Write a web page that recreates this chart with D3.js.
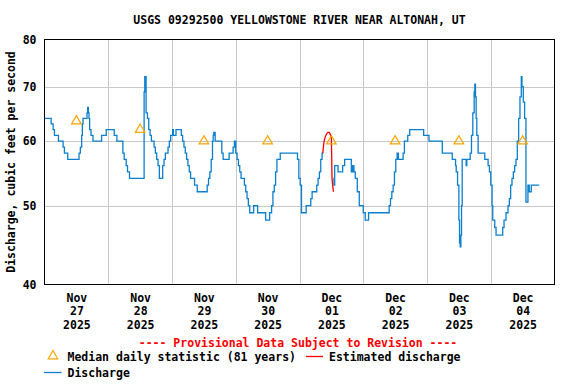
<!DOCTYPE html>
<html>
<head>
<meta charset="utf-8">
<script src="https://cdn.jsdelivr.net/npm/d3@7"></script>
<style>
body { margin: 0; background: #fff; }
svg text { font-family: "DejaVu Sans Mono", monospace; font-weight: bold; font-size: 11.5px; fill: #000; }
</style>
</head>
<body>
<script>
// hours after 2025-11-27 00:00, discharge in cfs
var dischargeBefore = [
    [0,64],[2.5,63],[3.25,62],[3.75,61],[5.25,60],[7,59],[7.5,58],[8.75,57],[13,58],[13.5,59],
    [14,61],[14.25,63],[14.5,64],[16,65],[16.25,66],[16.5,65],[16.75,64],[17,62],[17.5,61],[18.25,60],
    [21.5,61],[23.25,62],[26.25,61],[27.25,60],[29.5,58],[30,57],[30.75,56],[31.25,55],[32,54],
    [37.5,69],[37.75,72],[38.25,65],[38.75,64],[39.25,62],[39.75,61],[40.25,60],[41.25,59],[41.75,58],
    [42.25,57],[42.75,56],[43.25,54],[44.5,56],[45,57],[45.5,58],[46.5,59],[47,60],[47.5,61],[48.25,62],
    [48.5,61],[49.5,62],[51.5,61],[52,60],[52.5,59],[53,58],[53.5,57],[54,56],[54.5,55],[55,54],
    [56.5,53],[57.5,52],[61.25,53],[61.75,54],[62.25,55],[62.75,57],[63.25,60],[63.5,61],[63.75,61.5],
    [64.25,60],[66.75,58],[67.25,57],[69.5,58],[71,59],[71.5,60],[72,58],[72.5,57],[73,56],[73.5,55],
    [74,54],[75.25,53],[75.75,52],[76.25,51],[76.75,50],[77.25,49],[78.75,50],[80.25,49],[83.25,48],
    [84.75,49],[85.5,50],[86,52],[86.5,53],[87,55],[87.5,57],[88.75,58],[95.25,57],[95.75,54],
    [96.25,53],[96.75,49],[98.5,50],[100.25,51],[100.75,52],[102.5,53],[103,54],[103.5,55],[104,57],
    [104.5,58],[105,58]
];
var estimated = [
    [104.75,58],[105,59],[105.25,60],[105.75,60.8],[106.25,61.3],[106.75,61.5],[107.25,61.5],
    [107.75,61],[108,60.5],[108.25,54],[108.75,52]
];
var dischargeAfter = [
    [108.75,54],[109,53],[109.25,56],[110.5,55],[112.25,56],[113,57],[115.5,55],[116,56],[116.5,55],
    [117,54],[117.75,52],[118.5,50],[120,49],[120.75,48],[122,49],[129.75,50],[130.25,51],[130.75,52],
    [131.25,53],[131.75,55],[132.25,57],[132.75,58],[133.25,57],[135,58],[135.5,60],[136.75,61],
    [137.5,62],[142.75,61],[144.75,60],[149.75,58],[153.5,57],[154.75,56],[155,55],[155.5,53],[156,48],
    [156.25,45],[156.5,44.5],[156.75,46],[157,50],[157.25,57],[158.75,56],[159,57],[160.25,58],
    [160.75,61],[161.25,65],[161.75,69],[162,70.5],[162.25,68],[162.5,64],[162.75,61],[163.25,58],
    [165.75,57],[167,56],[167.5,55],[168,53],[168.5,50],[168.75,48],[169.5,47],[170,46],[172.5,47],
    [173,48],[173.75,49],[174.5,50],[175,51],[175.5,53],[176,54],[176.5,55],[177,56],[177.5,57],
    [178,60],[178.5,64],[179,68],[179.5,72],[179.75,70],[180.25,67],[180.75,64],[181.25,50.5],
    [182,53],[182.5,52],[183.25,53],[186.25,53]
];
var medianHours = [12, 36, 60, 84, 108, 132, 156, 180];
var medianCfs = [63.5, 62, 60, 60, 60, 60, 60, 60];
var yTicks = [40, 50, 60, 70, 80];
var xTickLabels = ["Nov 27 2025", "Nov 28 2025", "Nov 29 2025", "Nov 30 2025",
                   "Dec 01 2025", "Dec 02 2025", "Dec 03 2025", "Dec 04 2025"];

(function() {
    var width = 576, height = 384;
    var left = 44.5, right = 554.5, top = 39.5, bottom = 284.5;
    var start = new Date(2025, 10, 27);
    var at = h => d3.timeMinute.offset(start, Math.round(h * 60));

    var svg = d3.select("body").append("svg")
        .attr("width", width)
        .attr("height", height);

    var x = d3.scaleTime().domain([start, d3.timeDay.offset(start, 8)]).range([left, right]);
    var y = d3.scaleLog().domain([40, 80]).range([bottom, top]);

    // grid
    var grid = svg.append("g").attr("stroke", "#c8c8c8").attr("stroke-width", 1);
    grid.selectAll(".vg")
        .data(d3.range(1, 8).map(i => d3.timeDay.offset(start, i)))
        .enter().append("line")
        .attr("x1", d => Math.round(x(d)) + 0.5).attr("x2", d => Math.round(x(d)) + 0.5)
        .attr("y1", top).attr("y2", bottom);
    grid.selectAll(".hg")
        .data(yTicks.slice(1, -1))
        .enter().append("line")
        .attr("x1", left).attr("x2", right)
        .attr("y1", d => Math.round(y(d)) + 0.5).attr("y2", d => Math.round(y(d)) + 0.5);

    // discharge lines
    var stepLine = d3.line()
        .x(d => x(at(d[0])))
        .y(d => y(d[1]))
        .curve(d3.curveStepAfter);
    var plainLine = d3.line()
        .x(d => x(at(d[0])))
        .y(d => y(d[1]));

    svg.selectAll(".discharge")
        .data([dischargeBefore, dischargeAfter])
        .enter().append("path")
        .attr("class", "discharge")
        .attr("fill", "none")
        .attr("stroke", "#0a7fcf")
        .attr("stroke-width", 1.3)
        .attr("d", d => stepLine(d));

    svg.append("path")
        .attr("fill", "none")
        .attr("stroke", "#ff0000")
        .attr("stroke-width", 1.3)
        .attr("d", plainLine(estimated));

    // median triangles
    var tri = d3.symbol(d3.symbolTriangle, 40);
    svg.selectAll(".median")
        .data(medianHours.map((h, i) => [h, medianCfs[i]]))
        .enter().append("path")
        .attr("class", "median")
        .attr("d", tri)
        .attr("transform", d => `translate(${x(at(d[0]))},${y(d[1])})`)
        .attr("fill", "none")
        .attr("stroke", "#ffa500")
        .attr("stroke-width", 1.2);

    // frame
    svg.append("rect")
        .attr("x", left).attr("y", top)
        .attr("width", right - left).attr("height", bottom - top)
        .attr("fill", "none").attr("stroke", "#000").attr("stroke-width", 1);

    // axes
    var yAxis = svg.append("g")
        .attr("transform", `translate(${left},0)`)
        .call(d3.axisLeft(y).tickValues(yTicks).tickSize(0).tickPadding(8).tickFormat(d3.format("d")));
    yAxis.select(".domain").remove();

    var xAxis = svg.append("g")
        .attr("transform", `translate(0,${bottom})`)
        .call(d3.axisBottom(x).tickValues(medianHours.map(at)).tickSize(0));
    xAxis.select(".domain").remove();
    xAxis.selectAll(".tick text").each(function(d, i) {
        var t = d3.select(this).text(null).attr("dy", null).attr("y", null);
        xTickLabels[i].split(" ").forEach((s, j) => {
            t.append("tspan").attr("x", 0).attr("y", 17.5 + j * 13.3).text(s);
        });
    });
    svg.selectAll("g").attr("font-family", null).attr("font-size", null);

    // titles
    svg.append("text")
        .attr("x", 299.5).attr("y", 24)
        .attr("text-anchor", "middle")
        .text("USGS 09292500 YELLOWSTONE RIVER NEAR ALTONAH, UT");

    svg.append("text")
        .attr("text-anchor", "middle")
        .attr("transform", `translate(15,${(top + bottom) / 2}) rotate(-90)`)
        .text("Discharge, cubic feet per second");

    svg.append("text")
        .attr("x", 298).attr("y", 347)
        .attr("text-anchor", "middle")
        .style("fill", "#ff0000")
        .text("---- Provisional Data Subject to Revision ----");

    // legend
    svg.append("path")
        .attr("d", tri)
        .attr("transform", "translate(53,356)")
        .attr("fill", "none").attr("stroke", "#ffa500").attr("stroke-width", 1.2);
    svg.append("text").attr("x", 67.5).attr("y", 361).text("Median daily statistic (81 years)");
    svg.append("line")
        .attr("x1", 306).attr("x2", 323).attr("y1", 356.5).attr("y2", 356.5)
        .attr("stroke", "#ff0000").attr("stroke-width", 1.3);
    svg.append("text").attr("x", 329).attr("y", 361).text("Estimated discharge");
    svg.append("line")
        .attr("x1", 44).attr("x2", 61.5).attr("y1", 372.5).attr("y2", 372.5)
        .attr("stroke", "#0a7fcf").attr("stroke-width", 1.3);
    svg.append("text").attr("x", 67.5).attr("y", 377).text("Discharge");
})();
</script>
</body>
</html>
